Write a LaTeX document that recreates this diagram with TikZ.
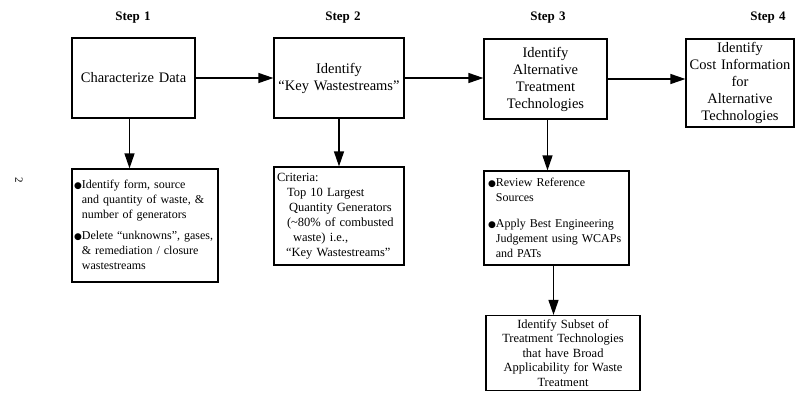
\documentclass[tikz,border=0pt]{standalone}
\usepackage{fontspec}
\setmainfont{Liberation Serif}[WordSpace=1.3]
\newfontfamily\dotfont{DejaVu Sans}
\usetikzlibrary{arrows.meta,positioning}

\newcommand{\bul}{{\dotfont\fontsize{9}{9}\selectfont ●}}

\begin{document}
\begin{tikzpicture}[x=1pt, y=-1pt,
  font=\fontsize{14.5}{17}\selectfont,
  stephead/.style={font=\fontsize{13}{15}\selectfont\bfseries},
  mainbox/.style={draw, line width=1.2pt, align=center, inner sep=1pt},
  notebox/.style={draw, line width=1.2pt, align=left, inner ysep=2pt, font=\fontsize{12.5}{15}\selectfont},
  flow/.style={line width=1.2pt, -{Triangle[length=15pt,width=10pt]}}
]
\useasboundingbox (0,0) rectangle (799,397);

% Page number
\node[rotate=-90, font=\fontsize{11}{11}\selectfont] (pageno) at (19,180) {2};

% Step headings
\node[stephead] (step1) at (133,18) {Step 1};
\node[stephead] (step2) at (343,18) {Step 2};
\node[stephead] (step3) at (548,18) {Step 3};
\node[stephead] (step4) at (768,18) {Step 4};

% Main steps
\node[mainbox, minimum width=123pt, minimum height=80pt] (chardata) at (133.5,78) {Characterize Data};
\node[mainbox, minimum width=130pt, minimum height=80pt] (keyws) at (339,78) {Identify\\“Key Wastestreams”};
\node[mainbox, minimum width=123pt, minimum height=80pt] (alttech) at (545.5,79) {Identify\\Alternative\\Treatment\\Technologies};
\node[mainbox, minimum width=108pt, minimum height=88pt] (costinfo) at (740,83) {Identify\\Cost Information\\for\\Alternative\\Technologies};

% Detail boxes
\node[notebox, text width=142pt, inner xsep=2pt, minimum height=113pt, font=\fontsize{12}{15}\selectfont] (charnote) at (145,225.5)
  {\bul Identify form, source\\ \phantom{\bul}and quantity of waste, \&\\ \phantom{\bul}number of generators\\[6pt]
   \bul Delete “unknowns”, gases,\\ \phantom{\bul}\& remediation / closure\\ \phantom{\bul}wastestreams};
\node[notebox, text width=124pt, inner xsep=3pt, minimum height=98pt] (criteria) at (339,216)
  {Criteria:\\ \hspace*{10pt}Top 10 Largest\\ \hspace*{12pt}Quantity Generators\\ \hspace*{10pt}(\textasciitilde80\% of combusted\\
   \hspace*{16pt}waste) i.e.,\\ \hspace*{9pt}“Key Wastestreams”};
\node[notebox, text width=137pt, inner xsep=4pt, minimum height=94pt, font=\fontsize{12}{15}\selectfont] (refsrc) at (556.5,218)
  {\bul Review Reference\\ \phantom{\bul}Sources\\[11pt]
   \bul Apply Best Engineering\\ \phantom{\bul}Judgement using WCAPs\\ \phantom{\bul}and PATs};
\node[notebox, align=center, minimum width=154pt, minimum height=75pt, font=\fontsize{12.5}{14.5}\selectfont] (subset) at (563,353)
  {Identify Subset of\\Treatment Technologies\\that have Broad\\Applicability for Waste\\Treatment};

% Step flow
\draw[flow] (chardata.east) -- (keyws.west);
\draw[flow] (keyws.east) -- (keyws.east -| alttech.west);
\draw[flow] (alttech.east) -- (alttech.east -| costinfo.west);

% Down to details
\draw[flow] ([xshift=-4pt]chardata.south) -- ([xshift=-4pt]chardata.south |- charnote.north);
\draw[flow] (keyws.south) -- (keyws.south |- criteria.north);
\draw[flow] ([xshift=2pt]alttech.south) -- ([xshift=2pt]alttech.south |- refsrc.north);
\draw[flow] ([xshift=-3pt]refsrc.south) -- ([xshift=-3pt]refsrc.south |- subset.north);
\end{tikzpicture}
\end{document}
